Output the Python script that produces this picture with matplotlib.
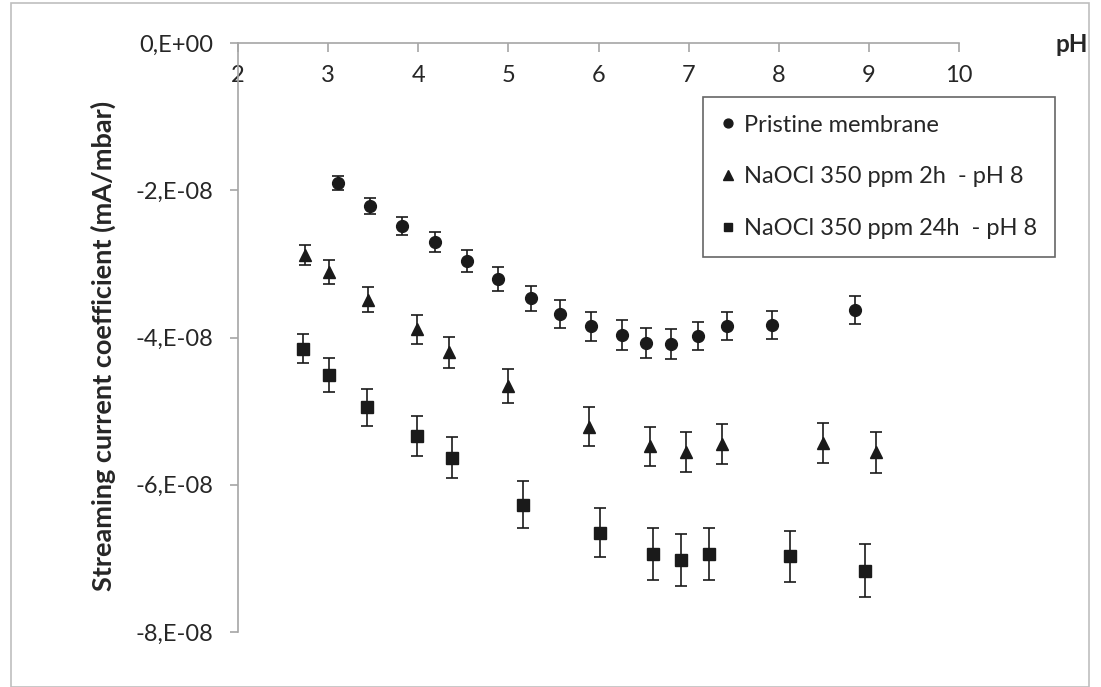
import matplotlib
matplotlib.use("Agg")
import matplotlib.pyplot as plt
from matplotlib.patches import Rectangle
from matplotlib.lines import Line2D

plt.rcParams['font.family'] = ['Lato', 'DejaVu Sans']

# pH values and streaming current coefficient (in 1e-8 mA/mbar)
ph_pristine = [3.11, 3.46, 3.82, 4.19, 4.54, 4.89, 5.25, 5.57, 5.92, 6.26,
               6.53, 6.80, 7.10, 7.43, 7.93, 8.85]
sc_pristine = [-1.90, -2.21, -2.49, -2.70, -2.96, -3.21, -3.47, -3.68, -3.85, -3.97,
               -4.08, -4.09, -3.98, -3.84, -3.83, -3.63]
err_pristine = [0.095, 0.11, 0.12, 0.135, 0.15, 0.165, 0.17, 0.19, 0.195, 0.205,
                0.205, 0.205, 0.195, 0.19, 0.195, 0.19]

ph_2h = [2.74, 3.01, 3.44, 3.99, 4.34, 5.00, 5.89, 6.57, 6.97, 7.37, 8.49, 9.08]
sc_2h = [-2.88, -3.11, -3.49, -3.89, -4.20, -4.66, -5.21, -5.48, -5.56, -5.45, -5.43, -5.56]
err_2h = [0.14, 0.16, 0.17, 0.20, 0.21, 0.235, 0.26, 0.27, 0.27, 0.27, 0.27, 0.28]

ph_24h = [2.72, 3.01, 3.43, 3.99, 4.37, 5.16, 6.02, 6.60, 6.92, 7.23, 8.13, 8.96]
sc_24h = [-4.15, -4.51, -4.95, -5.34, -5.63, -6.27, -6.65, -6.94, -7.02, -6.94, -6.97, -7.17]
err_24h = [0.20, 0.23, 0.25, 0.27, 0.28, 0.32, 0.335, 0.35, 0.355, 0.35, 0.345, 0.36]

labels = ['Pristine membrane', 'NaOCl 350 ppm 2h  - pH 8', 'NaOCl 350 ppm 24h  - pH 8']
y_ticks = [0, -2e-8, -4e-8, -6e-8, -8e-8]
y_ticklabels = ['0,E+00', '-2,E-08', '-4,E-08', '-6,E-08', '-8,E-08']
x_ticks = [2, 3, 4, 5, 6, 7, 8, 9, 10]


def main():
    fig = plt.figure(figsize=(11.01, 6.87), dpi=100)
    ax = fig.add_axes([238 / 1101, 1 - 632 / 687, 721 / 1101, 589 / 687])

    series = [(ph_pristine, sc_pristine, err_pristine, 'o', 8.5),
              (ph_2h, sc_2h, err_2h, '^', 9),
              (ph_24h, sc_24h, err_24h, 's', 8)]
    handles = []
    for (x, y, e, m, ms), lab in zip(series, labels):
        ax.errorbar(x, [v * 1e-8 for v in y], yerr=[v * 1e-8 for v in e],
                    fmt=m, ms=ms, color='#1a1a1a', ecolor='#1a1a1a',
                    elinewidth=1.2, capsize=4, capthick=1.2)
        # legend shows only the marker, no error bar
        handles.append(Line2D([], [], linestyle='none', marker=m, ms=ms * 0.75,
                              color='#1a1a1a', label=lab))

    ax.set_xlim(2, 10)
    ax.set_ylim(-8e-8, 0)
    ax.set_xticks(x_ticks)
    ax.set_yticks(y_ticks)
    ax.set_yticklabels(y_ticklabels)

    # x axis drawn along y = 0 (top of the plot)
    ax.spines['bottom'].set_position(('data', 0))
    for s in ['top', 'right']:
        ax.spines[s].set_visible(False)
    for s in ['bottom', 'left']:
        ax.spines[s].set_color('#a6a6a6')
        ax.spines[s].set_linewidth(1.2)
    ax.tick_params(axis='x', direction='out', length=6.5, width=1.2, color='#a6a6a6',
                   labelsize=17, labelcolor='#262626', pad=9)
    ax.tick_params(axis='y', direction='out', length=6, width=1.2, color='#a6a6a6',
                   labelsize=17, labelcolor='#262626', pad=12)

    fig.text(1071.7 / 1101, 1 - 45 / 687, 'pH', fontsize=17.5, fontweight='bold',
             color='#262626', ha='center', va='center')
    fig.text(103 / 1101, 1 - 346 / 687, 'Streaming current coefficient (mA/mbar)',
             fontsize=19.5, fontweight='bold', color='#262626', rotation=90,
             ha='center', va='center')

    leg = ax.legend(handles=handles, loc='upper left',
                    bbox_to_anchor=((703 - 238) / 721, (632 - 97) / 589),
                    fontsize=17, frameon=True, fancybox=False,
                    handlelength=0.6, handletextpad=0.4, borderpad=0.75,
                    labelspacing=1.3, borderaxespad=0)
    leg.get_frame().set_edgecolor('#404040')
    leg.get_frame().set_linewidth(1.2)
    for t in leg.get_texts():
        t.set_color('#262626')

    # outer chart border
    fig.patches.append(Rectangle((11 / 1101, 0), 1078 / 1101, 684 / 687, transform=fig.transFigure,
                                 fill=False, edgecolor='#bfbfbf', linewidth=1.2))

    fig.savefig('out.png', dpi=100)


if __name__ == "__main__":
    main()
